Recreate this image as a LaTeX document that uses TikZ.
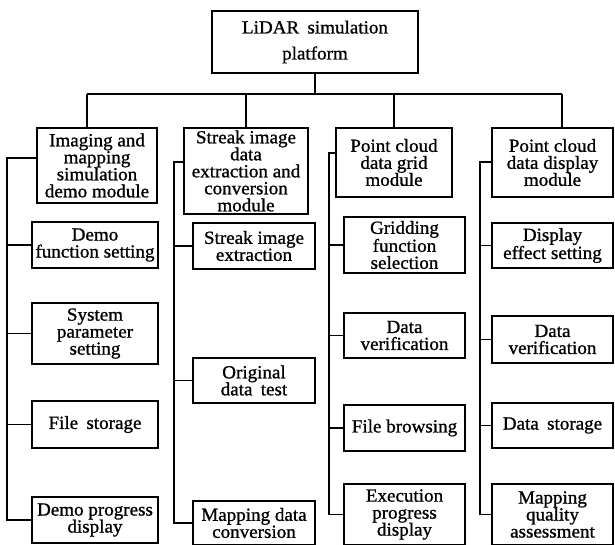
\documentclass[tikz,border=0pt]{standalone}
\usepackage{fontspec}
\setmainfont{Liberation Serif}[FakeStretch=1.03,FakeBold=1]

% wider gap used in some two-word labels
\newcommand{\wsp}{\hspace{0.45em}}

\begin{document}
\begin{tikzpicture}[
  x=1pt,y=-1pt,
  font=\fontsize{18.5}{17}\selectfont,
  box/.style={draw,line width=2pt,align=center,inner sep=0pt,fill=white},
  sub1/.style={box,minimum width=126pt},
  sub2/.style={box,minimum width=122pt},
  sub3/.style={box,minimum width=121pt},
  sub4/.style={box,minimum width=121pt},
  link/.style={line width=1.8pt},
]
\fill[white] (0,0) rectangle (615,544);
\useasboundingbox (0,0) rectangle (615,544);
% ---- root ----
\node[box,minimum width=206pt,minimum height=62pt,font=\fontsize{18.5}{26}\selectfont] (plat) at (315,42) {LiDAR\wsp simulation\\platform};
% ---- the four modules ----
\node[box,minimum width=120pt,minimum height=75pt] (img) at (97,165.5) {Imaging and\\mapping\\simulation\\demo module};
\node[box,minimum width=124pt,minimum height=86pt] (strk) at (246,171) {Streak image\\data\\extraction and\\conversion\\module};
\node[box,minimum width=116pt,minimum height=69pt] (grid) at (394,162.5) {Point cloud\\data grid\\module};
\node[box,minimum width=121pt,minimum height=69pt] (disp) at (552.5,162.5) {Point cloud\\data display\\module};
% ---- imaging / mapping demo functions ----
\node[sub1,minimum height=46pt] (img1) at (95,245) {Demo\\function setting};
\node[sub1,minimum height=61pt] (img2) at (95,333.5) {System\\parameter\\setting};
\node[sub1,minimum height=47pt] (img3) at (95,424.5) {File\wsp storage};
\node[sub1,minimum height=46pt] (img4) at (95,520) {Demo progress\\display};
% ---- streak image functions ----
\node[sub2,minimum height=46pt] (strk1) at (254,246) {Streak image\\extraction};
\node[sub2,minimum height=45pt] (strk2) at (254,380.5) {Original\\data\wsp test};
\node[sub2,minimum height=44pt] (strk3) at (254,523) {Mapping data\\conversion};
% ---- grid functions ----
\node[sub3,minimum height=56pt] (grid1) at (404.5,245) {Gridding\\function\\selection};
\node[sub3,minimum height=45pt] (grid2) at (404.5,335.5) {Data\\verification};
\node[sub3,minimum height=46pt] (grid3) at (404.5,428) {File browsing};
\node[sub3,minimum height=61pt] (grid4) at (404.5,514.5) {Execution\\progress\\display};
% ---- display functions ----
\node[sub4,minimum height=45pt] (disp1) at (552.5,245.5) {Display\\effect setting};
\node[sub4,minimum height=47pt] (disp2) at (552.5,339.5) {Data\\verification};
\node[sub4,minimum height=45pt] (disp3) at (552.5,425.5) {Data\wsp storage};
\node[sub4,minimum height=61pt] (disp4) at (552.5,514.5) {Mapping\\quality\\assessment};
% ---- root to modules ----
\coordinate (bus) at (0,94);
\coordinate (drop1) at (87,94);
\coordinate (drop4) at (562,94);
\draw[link] (plat.south) -- (plat.south |- bus);
\draw[link] (drop1) -- (drop4);
\draw[link] (drop1) -- (drop1 |- img.north);
\draw[link] (strk.north |- bus) -- (strk.north);
\draw[link] (grid.north |- bus) -- (grid.north);
\draw[link] (drop4) -- (drop4 |- disp.north);
% ---- trunks on the left of each column ----
\coordinate (t1) at (7,158);
\coordinate (t2) at (174,162);
\coordinate (t3) at (329,153);
\coordinate (t4) at (480,162);
\draw[link] (t1 -| img.west) -- (t1) |- (img4.west);
\foreach \n in {img1,img2,img3} \draw[link] (t1 |- \n.west) -- (\n.west);
\draw[link] (t2 -| strk.west) -- (t2) |- (strk3.west);
\foreach \n in {strk1,strk2} \draw[link] (t2 |- \n.west) -- (\n.west);
\draw[link] (t3 -| grid.west) -- (t3) |- (grid4.west);
\foreach \n in {grid1,grid2,grid3} \draw[link] (t3 |- \n.west) -- (\n.west);
\draw[link] (t4 -| disp.west) -- (t4) |- (disp4.west);
\foreach \n in {disp1,disp2,disp3} \draw[link] (t4 |- \n.west) -- (\n.west);
\end{tikzpicture}
\end{document}
